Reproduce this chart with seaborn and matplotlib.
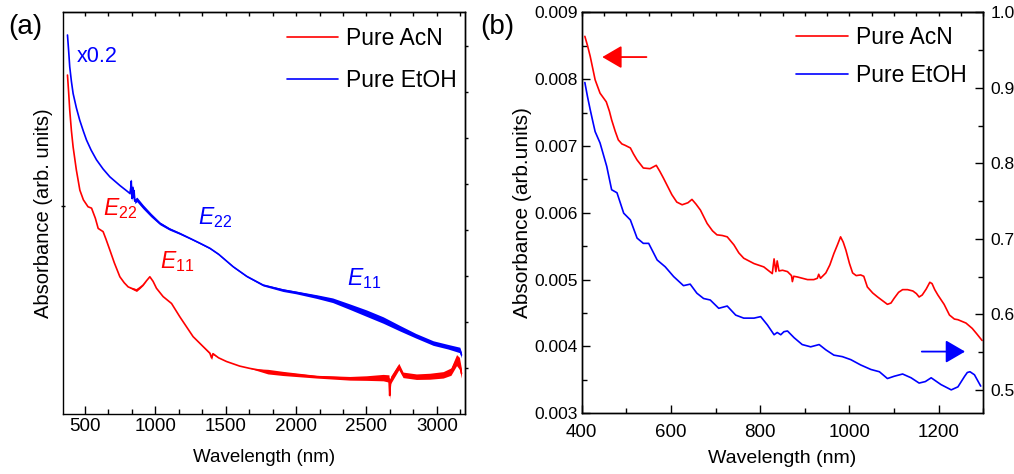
import numpy as np
import pandas as pd
import matplotlib
matplotlib.use("Agg")
import matplotlib.pyplot as plt
import seaborn as sns
from matplotlib.ticker import AutoMinorLocator, MultipleLocator, NullFormatter, FormatStrFormatter

# ---------------- data: panel (a) ----------------
a_red_wl = [377, 385, 393, 405, 417, 440, 465, 490, 523, 548, 575, 595, 630, 650, 678, 710,
            749, 780, 808, 840, 867, 890, 914, 940, 962, 985, 1009, 1056, 1116, 1175, 1269,
            1388, 1400, 1410, 1450, 1506, 1600, 1672, 1800, 1908, 2146, 2382, 2500, 2619,
            2660, 2665, 2672, 2730, 2760, 2855, 2950, 3045, 3100, 3140, 3160, 3175]
a_red_val = [0.736, 0.700, 0.660, 0.615, 0.580, 0.530, 0.486, 0.465, 0.450, 0.447, 0.425, 0.403,
             0.396, 0.380, 0.356, 0.328, 0.298, 0.285, 0.276, 0.272, 0.269, 0.274, 0.280, 0.290,
             0.298, 0.288, 0.273, 0.255, 0.240, 0.211, 0.168, 0.132, 0.122, 0.131, 0.122, 0.114,
             0.104, 0.099, 0.092, 0.088, 0.081, 0.0775, 0.078, 0.079, 0.077, 0.040, 0.074,
             0.103, 0.085, 0.081, 0.082, 0.085, 0.092, 0.117, 0.110, 0.088]
a_red_noise = [0, 0, 0, 0, 0, 0, 0, 0, 0, 0, 0, 0, 0, 0, 0, 0, 0, 0, 0, 0.002, 0.003, 0.002, 0.001,
               0, 0, 0, 0, 0, 0, 0, 0, 0.002, 0.004, 0.002, 0, 0, 0, 0, 0.005, 0.0045, 0.003,
               0.004, 0.005, 0.007, 0.008, 0.008, 0.008, 0.007, 0.006, 0.006, 0.0065, 0.007,
               0.008, 0.012, 0.013, 0.010]

a_blue_wl = [377, 385, 393, 405, 417, 440, 464, 490, 512, 545, 583, 630, 678, 750, 800, 820,
             826, 830, 835, 840, 845, 850, 855, 870, 914, 970, 1033, 1100, 1175, 1250, 1317,
             1388, 1450, 1553, 1650, 1766, 1908, 2000, 2146, 2260, 2382, 2500, 2619, 2739,
             2850, 2974, 3080, 3163, 3175]
a_blue_val = [0.823, 0.790, 0.754, 0.722, 0.696, 0.665, 0.638, 0.614, 0.595, 0.573, 0.552, 0.532,
              0.515, 0.496, 0.484, 0.479, 0.490, 0.506, 0.468, 0.492, 0.470, 0.485, 0.462, 0.466,
              0.450, 0.432, 0.414, 0.402, 0.392, 0.381, 0.371, 0.360, 0.347, 0.320, 0.299,
              0.280, 0.269, 0.264, 0.255, 0.247, 0.233, 0.219, 0.204, 0.186, 0.170, 0.154,
              0.146, 0.139, 0.128]
a_blue_noise = [0, 0, 0, 0, 0, 0, 0, 0, 0, 0, 0, 0, 0, 0, 0, 0.002, 0.005, 0.006, 0.006, 0.006,
                0.006, 0.005, 0.005, 0.005, 0.0045, 0.004, 0.003, 0.0025, 0.002, 0.0015, 0.0015,
                0.0015, 0.0015, 0.0015, 0.0015, 0.002, 0.003, 0.003, 0.004, 0.005, 0.006,
                0.007, 0.007, 0.006, 0.005, 0.005, 0.005, 0.006, 0.006]

# ---------------- data: panel (b) ----------------
b_red_wl = [407, 413, 419, 425, 430, 441, 455, 462, 467, 475, 482, 490, 497, 509, 516, 524, 538,
            553, 567, 575, 583, 602, 613, 625, 638, 647, 656, 666, 681, 693, 703, 715, 726, 741,
            752, 763, 786, 808, 827, 831, 835, 838, 842, 850, 861, 870, 872, 875, 883, 906, 920,
            928, 931, 935, 947, 956, 965, 973, 980, 986, 992, 1000, 1007, 1015, 1025, 1032,
            1040, 1052, 1063, 1075, 1085, 1093, 1100, 1110, 1119, 1130, 1142, 1150, 1156, 1163,
            1172, 1180, 1185, 1191, 1198, 1212, 1224, 1235, 1243, 1261, 1275, 1285, 1297]
b_red_val = [0.00864, 0.00850, 0.00834, 0.00815, 0.00799, 0.00779, 0.00766, 0.00752, 0.00739,
             0.00722, 0.00709, 0.00703, 0.00701, 0.00697, 0.00688, 0.00679, 0.00667, 0.00666,
             0.00671, 0.00662, 0.00652, 0.00627, 0.00616, 0.00612, 0.00615, 0.00620, 0.00613,
             0.00604, 0.00584, 0.00573, 0.00567, 0.00566, 0.00564, 0.00552, 0.00540, 0.00532,
             0.00524, 0.00519, 0.00509, 0.00531, 0.00512, 0.00528, 0.00513, 0.00514, 0.00512,
             0.00506, 0.00497, 0.00505, 0.00504, 0.00500, 0.00500, 0.00502, 0.00508, 0.00502,
             0.00510, 0.00522, 0.00539, 0.00552, 0.00564, 0.00556, 0.00544, 0.00524, 0.00510,
             0.00506, 0.00507, 0.00505, 0.00489, 0.00480, 0.00474, 0.00468, 0.00463, 0.00465,
             0.00472, 0.00481, 0.00485, 0.00485, 0.00483, 0.00479, 0.00474, 0.00477, 0.00486,
             0.00496, 0.00494, 0.00485, 0.00477, 0.00463, 0.00447, 0.00441, 0.00440, 0.00435,
             0.00427, 0.00419, 0.00409]

b_blue_wl = [407, 413, 419, 425, 430, 441, 456, 467, 479, 494, 509, 524, 538, 550, 569, 587, 606,
             628, 643, 658, 673, 688, 707, 726, 745, 763, 786, 801, 816, 831, 838, 846, 853, 861,
             876, 894, 913, 932, 947, 965, 984, 1003, 1025, 1048, 1067, 1085, 1100, 1119, 1138,
             1156, 1170, 1183, 1205, 1228, 1243, 1258, 1264, 1270, 1280, 1294]
b_blue_val = [0.907, 0.888, 0.871, 0.855, 0.842, 0.827, 0.796, 0.765, 0.761, 0.734, 0.725, 0.701,
              0.694, 0.694, 0.672, 0.663, 0.650, 0.638, 0.640, 0.628, 0.621, 0.619, 0.608, 0.611,
              0.599, 0.595, 0.595, 0.597, 0.586, 0.573, 0.576, 0.573, 0.577, 0.578, 0.569, 0.560,
              0.557, 0.560, 0.553, 0.546, 0.544, 0.540, 0.533, 0.527, 0.524, 0.515, 0.518, 0.521,
              0.516, 0.509, 0.511, 0.516, 0.507, 0.500, 0.504, 0.518, 0.523, 0.524, 0.520, 0.505]

labels = ["Pure AcN", "Pure EtOH"]
RED, BLUE = "#FF0000", "#0000FF"

# ---------------- style ----------------
sns.set_theme(style="ticks")
plt.rcParams["font.family"] = ["Liberation Sans", "DejaVu Sans"]
plt.rcParams.update({
    "axes.edgecolor": "black", "axes.labelcolor": "black", "text.color": "black",
    "xtick.color": "black", "ytick.color": "black", "axes.linewidth": 1.0,
    "mathtext.fontset": "custom", "mathtext.rm": "Liberation Sans",
    "mathtext.it": "Liberation Sans:italic",
})

fig = plt.figure(figsize=(10.14, 4.74), dpi=100)
axa = fig.add_axes([0.0621, 0.1266, 0.3965, 0.8481])
axb = fig.add_axes([0.5737, 0.1281, 0.3961, 0.846])

# ---------------- panel (a) ----------------
dfa_r = pd.DataFrame({"wl": a_red_wl, "val": a_red_val, "n": a_red_noise})
dfa_b = pd.DataFrame({"wl": a_blue_wl, "val": a_blue_val, "n": a_blue_noise})
axa.fill_between(dfa_b["wl"], dfa_b["val"] - dfa_b["n"], dfa_b["val"] + dfa_b["n"],
                 color=BLUE, lw=0)
axa.fill_between(dfa_r["wl"], dfa_r["val"] - dfa_r["n"], dfa_r["val"] + dfa_r["n"],
                 color=RED, lw=0)
sns.lineplot(data=dfa_r, x="wl", y="val", ax=axa, color=RED, lw=1.2, label=labels[0],
             estimator=None, sort=False)
sns.lineplot(data=dfa_b, x="wl", y="val", ax=axa, color=BLUE, lw=1.2, label=labels[1],
             estimator=None, sort=False)

axa.set_xlim(345, 3200)
axa.set_ylim(0, 0.873)
axa.set_xticks([500, 1000, 1500, 2000, 2500, 3000])
axa.xaxis.set_minor_locator(AutoMinorLocator(3))
axa.set_yticks([0.452])
axa.yaxis.set_major_formatter(NullFormatter())
axa.tick_params(axis="x", which="major", direction="in", length=6, width=1, pad=3,
                labelsize=13.5, top=False)
axa.tick_params(axis="x", which="minor", direction="in", length=3.5, width=1, top=False)
axa.tick_params(axis="y", which="major", direction="inout", length=3, width=1, right=False)
secx = axa.secondary_xaxis("top")
secx.xaxis.set_major_locator(MultipleLocator(500 / 3))
secx.xaxis.set_major_formatter(NullFormatter())
secx.tick_params(direction="in", length=3, width=1)
secy = axa.secondary_yaxis("right")
secy.set_yticks([0.1, 0.2, 0.3, 0.4, 0.5, 0.6, 0.7, 0.8])
secy.yaxis.set_major_formatter(NullFormatter())
secy.tick_params(direction="out", length=2.5, width=1)

axa.set_xlabel("Wavelength (nm)", fontsize=13.5, labelpad=10)
axa.set_ylabel("Absorbance (arb. units)", fontsize=14.5)
axa.yaxis.set_label_coords(-0.025, 0.5)
axa.legend(loc="upper left", bbox_to_anchor=(0.557, 0.962), frameon=False, fontsize=16.5,
           handlelength=2.25, handletextpad=0.35, labelspacing=0.8, borderpad=0,
           borderaxespad=0)

axa.text(445, 0.776, "x0.2", color=BLUE, fontsize=15.5, ha="left", va="center")
axa.text(630, 0.432, r"$E_{22}$", color=RED, fontsize=16.5, ha="left", va="baseline")
axa.text(1305, 0.4126, r"$E_{22}$", color=BLUE, fontsize=16.5, ha="left", va="baseline")
axa.text(1033, 0.316, r"$E_{11}$", color=RED, fontsize=16.5, ha="left", va="baseline")
axa.text(2361, 0.280, r"$E_{11}$", color=BLUE, fontsize=16.5, ha="left", va="baseline")

# ---------------- panel (b) ----------------
dfb_r = pd.DataFrame({"wl": b_red_wl, "val": b_red_val})
dfb_b = pd.DataFrame({"wl": b_blue_wl, "val": b_blue_val})
sns.lineplot(data=dfb_r, x="wl", y="val", ax=axb, color=RED, lw=1.2, estimator=None,
             sort=False, legend=False)
axb2 = axb.twinx()
sns.lineplot(data=dfb_b, x="wl", y="val", ax=axb2, color=BLUE, lw=1.2, estimator=None,
             sort=False, legend=False)

axb.set_xlim(400, 1300)
axb.set_ylim(0.003, 0.009)
axb2.set_ylim(0.469, 1.0)
axb.set_xticks([400, 600, 800, 1000, 1200])
axb.xaxis.set_minor_locator(AutoMinorLocator(2))
axb.set_yticks([0.003, 0.004, 0.005, 0.006, 0.007, 0.008, 0.009])
axb.yaxis.set_major_formatter(FormatStrFormatter("%.3f"))
axb.yaxis.set_minor_locator(AutoMinorLocator(2))
axb2.set_yticks([0.5, 0.6, 0.7, 0.8, 0.9, 1.0])
axb2.yaxis.set_major_formatter(FormatStrFormatter("%.1f"))
axb2.yaxis.set_minor_locator(AutoMinorLocator(2))
axb.tick_params(axis="x", which="major", direction="in", length=6, width=1, pad=8,
                labelsize=13.5, top=False)
axb.tick_params(axis="x", which="minor", direction="in", length=3.5, width=1, top=False)
axb.tick_params(axis="y", which="major", direction="in", length=6, width=1, pad=3,
                labelsize=12.5, right=False)
axb.tick_params(axis="y", which="minor", direction="in", length=3.5, width=1, right=False)
axb2.tick_params(axis="y", which="major", direction="in", length=6, width=1, pad=5,
                 labelsize=12.5)
axb2.tick_params(axis="y", which="minor", direction="in", length=3.5, width=1)
secxb = axb.secondary_xaxis("top")
secxb.xaxis.set_major_locator(MultipleLocator(50))
secxb.xaxis.set_major_formatter(NullFormatter())
secxb.tick_params(direction="in", length=3, width=1)

axb.set_xlabel("Wavelength (nm)", fontsize=14, labelpad=6)
axb.set_ylabel("Absorbance (arb.units)", fontsize=15)
axb.yaxis.set_label_coords(-0.124, 0.5)
axb2.set_ylabel("")

axb.annotate("", xy=(446, 0.00833), xytext=(545, 0.00833),
             arrowprops=dict(arrowstyle="-|>,head_length=0.6,head_width=0.35", color=RED,
                             lw=1.3, mutation_scale=20, shrinkA=0, shrinkB=0))
axb2.annotate("", xy=(1259, 0.5507), xytext=(1162, 0.5507),
              arrowprops=dict(arrowstyle="-|>,head_length=0.6,head_width=0.35", color=BLUE,
                              lw=1.3, mutation_scale=20, shrinkA=0, shrinkB=0))

h_r = plt.Line2D([], [], color=RED, lw=1.2)
h_b = plt.Line2D([], [], color=BLUE, lw=1.2)
axb2.legend([h_r, h_b], labels, loc="upper left", bbox_to_anchor=(0.534, 0.966),
            frameon=False, fontsize=16.5, handlelength=2.25, handletextpad=0.35,
            labelspacing=0.65, borderpad=0, borderaxespad=0)

fig.text(0.008, 0.943, "(a)", fontsize=20, ha="left", va="center")
fig.text(0.4734, 0.943, "(b)", fontsize=20, ha="left", va="center")

fig.savefig("out.png", dpi=100)
